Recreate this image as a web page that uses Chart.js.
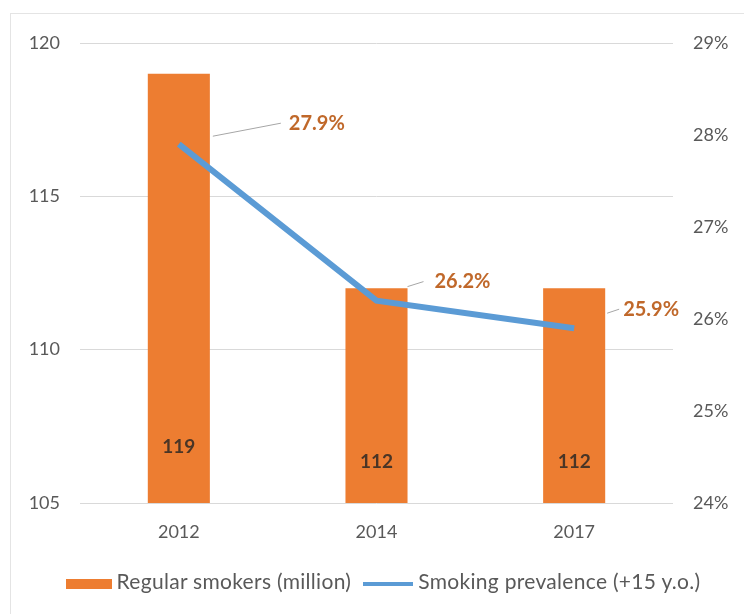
<!DOCTYPE html>
<html>
<head>
<meta charset="utf-8">
<script src="https://cdn.jsdelivr.net/npm/chart.js"></script>
<style>
  body { margin: 0; background: #fff; }
  #wrap { position: relative; width: 744px; height: 614px; }
  #frame { position: absolute; left: 10px; top: 13px; right: 0; bottom: 0;
           border-left: 1px solid #e4e4e4; border-top: 1px solid #e4e4e4; }
  #legend { position: absolute; left: 11px; width: 744px; top: 565px; text-align: center;
            font-family: Lato, sans-serif; font-size: 21px; letter-spacing: 0.3px; color: #595959; white-space: nowrap; }
  #legend span.item { display: inline-block; vertical-align: middle; margin: 0 6px; }
  #legend i { display: inline-block; vertical-align: middle; margin-right: 5px; }
</style>
</head>
<body>
<div id="wrap">
  <div id="frame"></div>
  <canvas id="chart" width="744" height="614"></canvas>
  <div id="legend"></div>
</div>
<script>
// ── data ──
const years = ['2012', '2014', '2017'];
const smokers = [119, 112, 112];            // million
const prevalence = [27.9, 26.2, 25.9];      // % of population 15+
const leftTicks = [105, 110, 115, 120];
const rightTicks = [24, 25, 26, 27, 28, 29];

const ORANGE = '#ED7D31';
const BLUE = '#5B9BD5';
const GREY = '#595959';
const FONT = 'Lato, sans-serif';

// labels on bars + leader-lined labels on the line
const labelPlugin = {
  id: 'labels',
  afterDatasetsDraw(chart) {
    const c = chart.ctx;
    const bottom = chart.chartArea.bottom;
    c.save();
    c.textBaseline = 'middle';

    // bar values, near the base
    c.font = 'bold 19px ' + FONT;
    const barOffsets = [56, 41, 41];
    chart.getDatasetMeta(0).data.forEach((bar, i) => {
      c.fillStyle = '#4a3526';
      c.textAlign = 'center';
      c.fillText(String(smokers[i]), bar.x, bottom - barOffsets[i]);
    });

    // line values with leader lines
    c.font = 'bold 20px ' + FONT;
    const leads = [
      { sx: 34, sy: -8, ex: 102, ey: -21, gap: 8 },
      { sx: 31, sy: -14, ex: 47, ey: -19, gap: 11 },
      { sx: 33, sy: -15, ex: 45, ey: -19, gap: 4 }
    ];
    chart.getDatasetMeta(1).data.forEach((pt, i) => {
      const l = leads[i];
      c.strokeStyle = '#a6a6a6';
      c.lineWidth = 1;
      c.beginPath();
      c.moveTo(pt.x + l.sx, pt.y + l.sy);
      c.lineTo(pt.x + l.ex, pt.y + l.ey);
      c.stroke();
      c.fillStyle = '#C0682A';
      c.textAlign = 'left';
      c.fillText(prevalence[i].toFixed(1) + '%', pt.x + l.ex + l.gap, pt.y + l.ey);
    });
    c.restore();
  }
};

const chart = new Chart(document.getElementById('chart'), {
  data: {
    labels: years,
    datasets: [
      {
        type: 'bar',
        label: 'Regular smokers (million)',
        data: smokers,
        backgroundColor: ORANGE,
        categoryPercentage: 1,
        barPercentage: 0.314,
        yAxisID: 'y',
        order: 2
      },
      {
        type: 'line',
        label: 'Smoking prevalence (+15 y.o.)',
        data: prevalence,
        borderColor: BLUE,
        borderWidth: 6,
        pointRadius: 0,
        tension: 0,
        yAxisID: 'y1',
        order: 1
      }
    ]
  },
  options: {
    responsive: false,
    animation: false,
    layout: { padding: { top: 43, left: 0, right: 0, bottom: 0 } },
    plugins: { legend: { display: false }, tooltip: { enabled: false } },
    scales: {
      x: {
        grid: { display: false },
        border: { display: false },
        ticks: { color: GREY, font: { family: FONT, size: 18 }, padding: 10 },
        afterFit: s => { s.height = 111; }
      },
      y: {
        position: 'left',
        min: 105, max: 120,
        afterBuildTicks: s => { s.ticks = leftTicks.map(v => ({ value: v })); },
        grid: { color: '#d9d9d9', drawTicks: false },
        border: { display: false },
        ticks: { color: GREY, font: { family: FONT, size: 18 }, padding: 20 },
        afterFit: s => { s.width = 80; }
      },
      y1: {
        position: 'right',
        min: 24, max: 29,
        afterBuildTicks: s => { s.ticks = rightTicks.map(v => ({ value: v })); },
        grid: { display: false, drawTicks: false },
        border: { display: false },
        ticks: { color: GREY, font: { family: FONT, size: 18 }, padding: 20, callback: v => v + '%' },
        afterFit: s => { s.width = 71; }
      }
    }
  },
  plugins: [labelPlugin]
});

// legend as real text
const legend = document.getElementById('legend');
legend.innerHTML =
  '<span class="item"><i style="width:46px;height:10px;background:' + ORANGE + '"></i>' + chart.data.datasets[0].label + '</span>' +
  '<span class="item"><i style="width:50px;height:4px;background:' + BLUE + '"></i>' + chart.data.datasets[1].label + '</span>';
</script>
</body>
</html>
